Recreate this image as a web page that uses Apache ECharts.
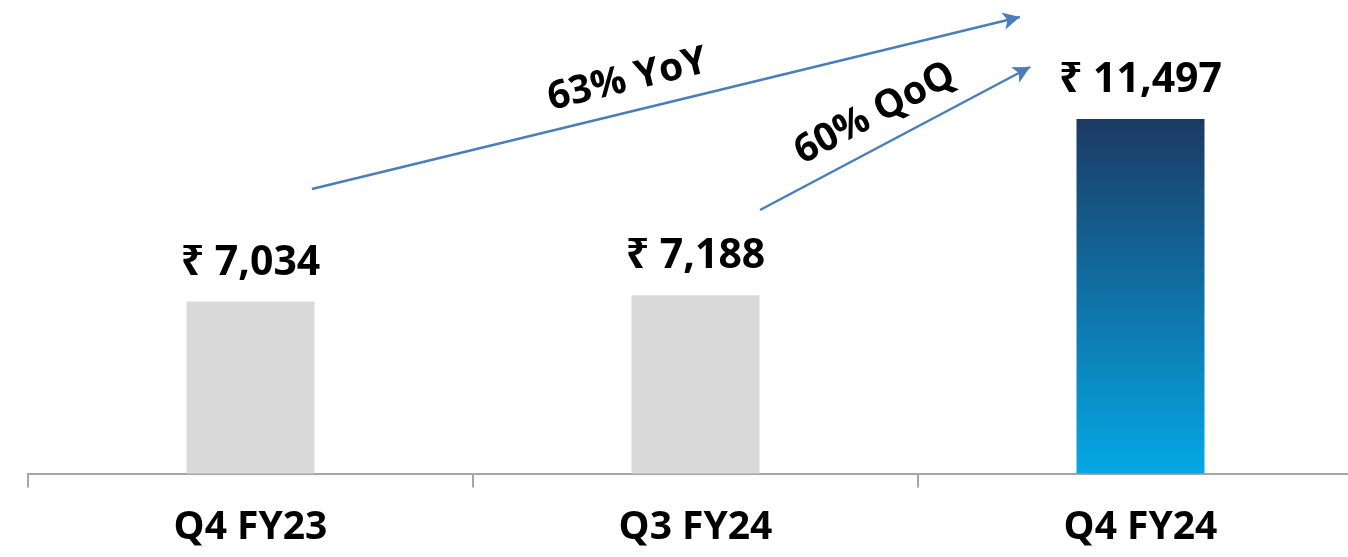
<!DOCTYPE html>
<html>
<head>
<meta charset="utf-8">
<script src="https://cdn.jsdelivr.net/npm/echarts@6/dist/echarts.min.js"></script>
<style>
html,body{margin:0;padding:0;background:#fff;overflow:hidden;}
#c{width:1363px;height:557px;}
</style>
</head>
<body>
<div id="c"></div>
<script>
const categories = ['Q4 FY23', 'Q3 FY24', 'Q4 FY24'];
const values = [7034, 7188, 11497];
const valueLabels = ['₹ 7,034', '₹ 7,188', '₹ 11,497'];
const growthLabels = ['63% YoY', '60% QoQ'];
// annotation arrows: [x in category units, value] start and end
const arrowYoY = [[0.138, 9788], [1.729, 13994]];
const arrowQoQ = [[1.145, 9274], [1.752, 12771]];

const FONT = '"Open Sans", "Noto Sans", sans-serif';
const chart = echarts.init(document.getElementById('c'));

const barData = values.map((v, i) => ({
  value: v,
  label: { formatter: valueLabels[i] },
  itemStyle: i === 2 ? {
    color: new echarts.graphic.LinearGradient(0, 0, 0, 1, [
      { offset: 0, color: '#1b3a63' },
      { offset: 1, color: '#05a8e6' }
    ])
  } : { color: '#d9d9d9' }
}));

function arrowItem(pts, text, pad) {
  return [
    { coord: pts[0], label: { formatter: text, padding: pad } },
    { coord: pts[1] }
  ];
}

chart.setOption({
  animation: false,
  grid: { left: 28, top: 0, bottom: 83.5, right: 0, containLabel: false },
  xAxis: [{
    type: 'category',
    data: categories,
    axisLine: { show: true, lineStyle: { color: '#a6a6a6', width: 2 } },
    axisTick: { show: true, length: 14, lineStyle: { color: '#a6a6a6', width: 2 } },
    axisLabel: { color: '#000', fontFamily: FONT, fontWeight: 'bold', fontSize: 39, margin: 35 }
  }, {
    type: 'value', min: -0.5, max: 2.5, show: false
  }],
  yAxis: { type: 'value', min: 2830, max: 14410, show: false },
  series: [{
    type: 'bar',
    data: barData,
    barWidth: 128,
    label: {
      show: true, position: 'top', distance: 18,
      color: '#000', fontFamily: FONT, fontWeight: 'bold', fontSize: 41
    }
  }, {
    type: 'line',
    xAxisIndex: 1,
    data: [],
    markLine: {
      silent: true,
      symbol: ['none', 'arrow'],
      symbolSize: [13, 17],
      lineStyle: { color: '#4a7ebb', width: 2.5, type: 'solid' },
      label: {
        show: true, position: 'middle', distance: 12,
        color: '#000', fontFamily: FONT, fontWeight: 'bold', fontSize: 39
      },
      data: [
        arrowItem(arrowYoY, growthLabels[0], [0, 64, 0, 0]),
        arrowItem(arrowQoQ, growthLabels[1], [0, 12, 0, 0])
      ]
    }
  }]
});
</script>
</body>
</html>
